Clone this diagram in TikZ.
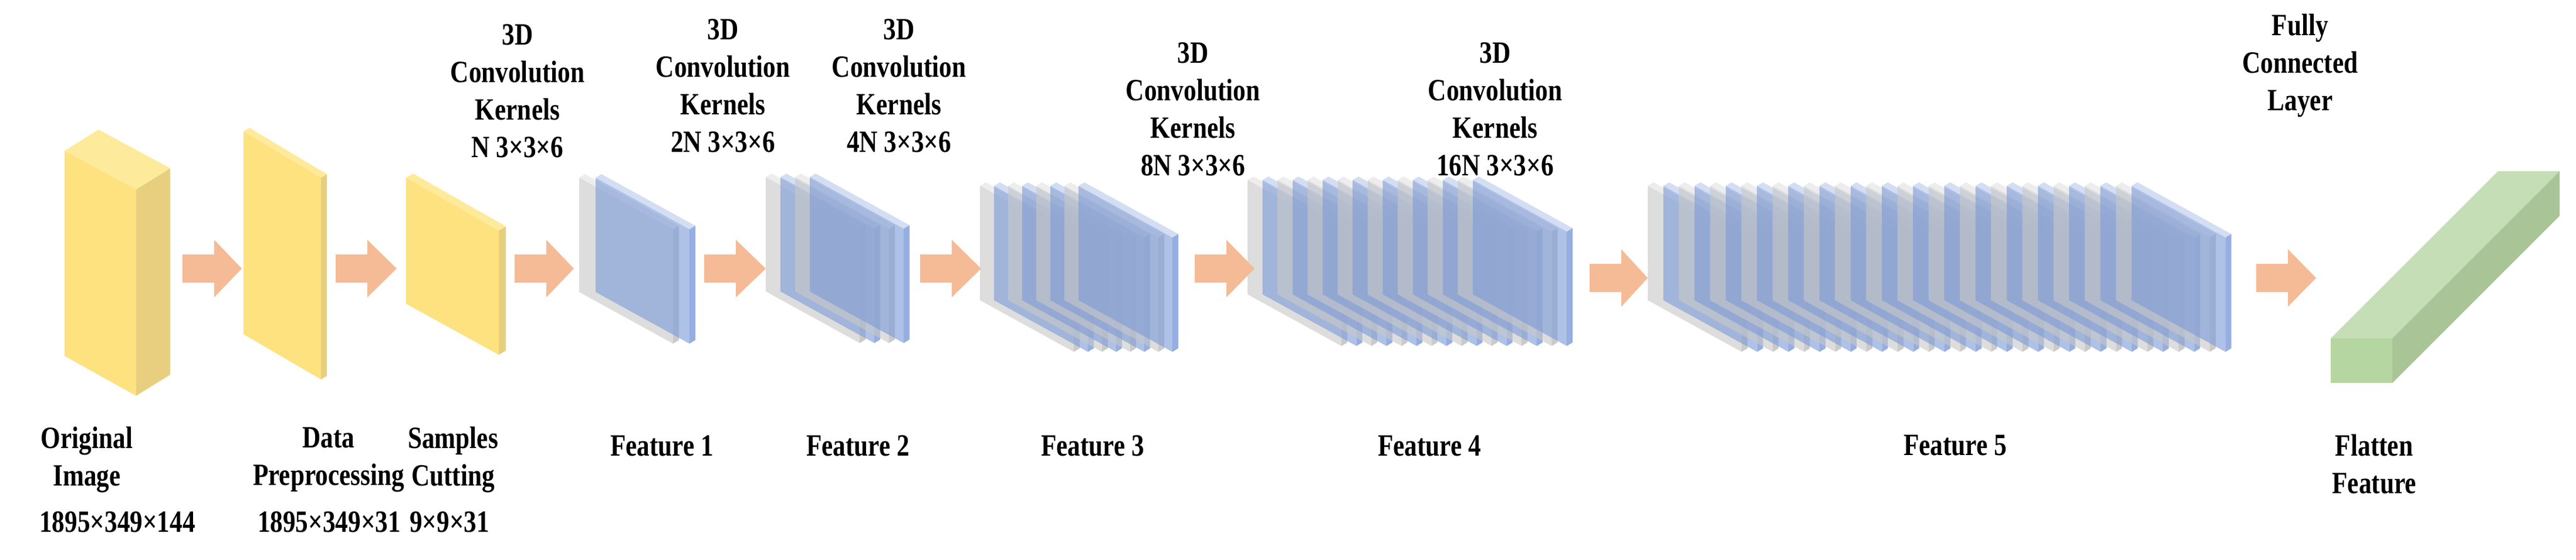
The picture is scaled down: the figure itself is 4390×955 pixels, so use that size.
\documentclass[tikz,border=0pt]{standalone}
\usepackage{fontspec}
\setmainfont[FakeStretch=0.82]{Liberation Serif}
\definecolor{ylwF}{RGB}{253,226,127}
\definecolor{ylwT}{RGB}{254,234,155}
\definecolor{ylwS}{RGB}{232,207,127}
\definecolor{grF}{RGB}{200,200,200}
\definecolor{grS}{RGB}{180,180,180}
\definecolor{blF}{RGB}{125,155,215}
\definecolor{blS}{RGB}{105,140,212}
\definecolor{arr}{RGB}{245,187,150}
\definecolor{gnT}{RGB}{197,222,181}
\definecolor{gnF}{RGB}{181,214,160}
\definecolor{gnS}{RGB}{169,197,151}
\newcommand\plate[3]{%
  \pgfmathsetmacro\px{#1}\pgfmathsetmacro\py{#2}%
  \fill[#3F,fill opacity=0.62] (\px,\py)--(\px+160,\py+88)--(\px+160,\py+283)--(\px,\py+195)--cycle;
  \fill[#3S,fill opacity=0.7] (\px+160,\py+88)--(\px+170,\py+82)--(\px+170,\py+277)--(\px+160,\py+283)--cycle;
  \fill[#3F!60!white,fill opacity=0.55] (\px,\py)--(\px+10,\py-6)--(\px+170,\py+82)--(\px+160,\py+88)--cycle;
}
\newcommand\blockarrow[3]{%
  \fill[arr] (#1,#3-24)--(#1+54,#3-24)--(#1+54,#3-49)--(#2,#3)--(#1+54,#3+49)--(#1+54,#3+24)--(#1,#3+24)--cycle;
}
\tikzset{lbl/.style={align=center,font=\fontsize{15}{18.2}\selectfont\bfseries,inner sep=0pt}}
\begin{document}
\begin{tikzpicture}[x=0.01cm,y=-0.01cm]
\useasboundingbox (0,0) rectangle (4390,955);
% yellow blocks
\fill[ylwF] (110,257)--(232,323)--(232,675)--(110,607)--cycle;
\fill[ylwS] (232,323)--(290,287)--(290,639)--(232,675)--cycle;
\fill[ylwT] (110,257)--(168,221)--(290,287)--(232,323)--cycle;
\fill[ylwF] (415,224)--(547,303)--(547,647)--(415,570)--cycle;
\fill[ylwS] (547,303)--(557,297)--(557,641)--(547,647)--cycle;
\fill[ylwT] (415,224)--(425,218)--(557,297)--(547,303)--cycle;
\fill[ylwF] (692,303)--(850,393)--(850,605)--(692,518)--cycle;
\fill[ylwS] (850,393)--(862,386)--(862,598)--(850,605)--cycle;
\fill[ylwT] (692,303)--(704,296)--(862,386)--(850,393)--cycle;
% features
\plate{987}{303}{gr}\plate{1015}{303}{bl}
\foreach \i in {0,1}{\plate{1305+2*\i*25}{302}{gr}\plate{1305+(2*\i+1)*25}{302}{bl}}
\foreach \i in {0,...,3}{\plate{1670+2*\i*24}{317}{gr}\plate{1670+(2*\i+1)*24}{317}{bl}}
\foreach \i in {0,...,7}{\plate{2126+2*\i*25.6}{307}{gr}\plate{2126+(2*\i+1)*25.6}{307}{bl}}
\foreach \i in {0,...,15}{\plate{2808+2*\i*26.6}{317}{gr}\plate{2808+(2*\i+1)*26.6}{317}{bl}}
% flatten
\fill[gnT] (3972,577)--(4257,292)--(4362,292)--(4077,577)--cycle;
\fill[gnF] (3972,577) rectangle (4077,653);
\fill[gnS] (4077,577)--(4362,292)--(4362,368)--(4077,653)--cycle;
% arrows
\blockarrow{311}{412}{458}
\blockarrow{572}{676}{458}
\blockarrow{877}{978}{458}
\blockarrow{1200}{1305}{458}
\blockarrow{1568}{1672}{458}
\blockarrow{2036}{2138}{458}
\blockarrow{2709}{2808}{474}
\blockarrow{3845}{3947}{474}
% top labels
\node[lbl] (k1) at (882,155) {3D\\Convolution\\Kernels\\N 3×3×6};
\node[lbl] (k2) at (1232,146) {3D\\Convolution\\Kernels\\2N 3×3×6};
\node[lbl] (k3) at (1532,146) {3D\\Convolution\\Kernels\\4N 3×3×6};
\node[lbl] (k4) at (2033,186) {3D\\Convolution\\Kernels\\8N 3×3×6};
\node[lbl] (k5) at (2548,186) {3D\\Convolution\\Kernels\\16N 3×3×6};
\node[lbl] (fc) at (3920,112) {Fully\\Connected\\Layer};
% bottom labels
\node[lbl] (l1) at (148,784) {Original\\Image};
\node[lbl] (l2) at (560,784) {Data\\Preprocessing};
\node[lbl] (l3) at (772,784) {Samples\\Cutting};
\node[lbl] (d1) at (200,890) {1895×349×144};
\node[lbl] (d2) at (561,890) {1895×349×31};
\node[lbl] (d3) at (766,890) {9×9×31};
\node[lbl] (f1) at (1128,760) {Feature 1};
\node[lbl] (f2) at (1462,760) {Feature 2};
\node[lbl] (f3) at (1862,760) {Feature 3};
\node[lbl] (f4) at (2436,760) {Feature 4};
\node[lbl] (f5) at (3332,760) {Feature 5};
\node[lbl] (fl) at (4046,792) {Flatten\\Feature};
\end{tikzpicture}
\end{document}
